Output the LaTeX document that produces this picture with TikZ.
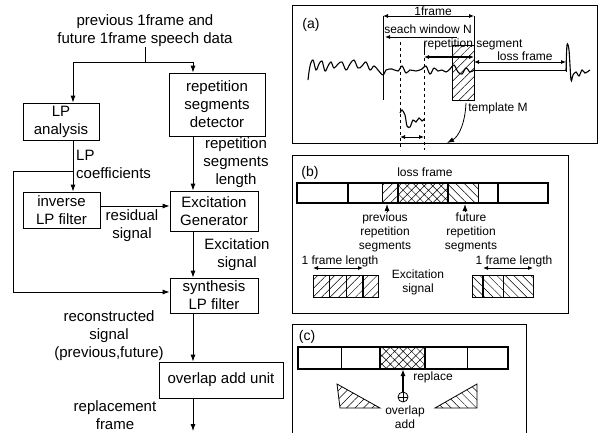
\documentclass[tikz,border=0pt]{standalone}
\usepackage{fontspec}
\setmainfont{Liberation Sans}
\usepackage{tikz}
\usetikzlibrary{arrows.meta,positioning,calc,patterns.meta}

\begin{document}
\begin{tikzpicture}[x=1pt,y=-1pt,
    blockbox/.style={draw, line width=0.8pt, align=center, inner sep=0pt, font=\fontsize{15}{18}\selectfont},
    lbl/.style={align=center, inner sep=0pt, font=\fontsize{15}{18}\selectfont},
    small/.style={align=center, inner sep=0pt, font=\fontsize{12}{14}\selectfont},
    big/.style={inner sep=0pt, font=\fontsize{14}{16}\selectfont},
    arr/.style={-{Latex[length=7pt,width=5pt]}, line width=0.8pt},
    dbl/.style={{Latex[length=5pt,width=4pt]}-{Latex[length=5pt,width=4pt]}, line width=0.8pt},
    panel/.style={line width=0.8pt},
    nehatch/.style={pattern={Lines[angle=45,distance=6pt,line width=0.5pt]}},
    nwhatch/.style={pattern={Lines[angle=-45,distance=6pt,line width=0.5pt]}},
    xhatch/.style={pattern={Hatch[angle=45,distance=6pt,line width=0.5pt]}}]
  \useasboundingbox (0,0) rectangle (602,432);

  % flow chart
  \node[lbl] (title) at (145,31) {previous 1frame and\\future 1frame speech data};
  \node[blockbox, minimum width=76, minimum height=37] (lpa) at (61,121.5) {LP\\analysis};
  \node[blockbox, minimum width=96, minimum height=63] (rsd) at (217,104.5) {repetition\\segments\\detector};
  \node[blockbox, minimum width=77, minimum height=36] (ilp) at (61.5,210) {inverse\\LP filter};
  \node[blockbox, minimum width=88, minimum height=40] (exg) at (214,211) {Excitation\\Generator};
  \node[blockbox, minimum width=88, minimum height=35] (slp) at (214,295.5) {synthesis\\LP filter};
  \node[blockbox, minimum width=124, minimum height=36] (ola) at (221,380) {overlap add unit};

  \node[lbl, align=left, anchor=west] (lpc) at (76,164) {LP\\coefficients};
  \node[lbl] (rsl) at (236,163) {repetition\\segments\\length};
  \node[lbl] (res) at (132,226) {residual\\signal};
  \node[lbl] (exs) at (237,255) {Excitation\\signal};
  \node[lbl] (rec) at (109,336) {reconstructed\\signal\\(previous,future)};
  \node[lbl] (rpf) at (115,415) {replacement\\frame};

  \coordinate (lpx) at (73,0);
  \coordinate (rpx) at (193,0);
  \coordinate (split) at (145,62);
  \coordinate (tap) at (73,171);
  \coordinate (loopl) at (13,171);
  \coordinate (resy) at (0,206);
  \coordinate (loopy) at (0,292);
  \coordinate (outp) at (193,431);

  \draw[line width=0.8pt] (title.south) -- (split);
  \draw[arr] (split) -| (lpa.north -| lpx);
  \draw[arr] (split) -| (rsd.north -| rpx);
  \draw[arr] (lpa.south -| lpx) -- (ilp.north -| lpx);
  \draw[arr] (tap) -- (loopl) |- (slp.west |- loopy);
  \draw[arr] (ilp.east |- resy) -- (exg.west |- resy);
  \draw[arr] (rsd.south -| rpx) -- (exg.north -| rpx);
  \draw[arr] (exg.south -| rpx) -- (slp.north -| rpx);
  \draw[arr] (slp.south -| rpx) -- (ola.north -| rpx);
  \draw[arr] (ola.south -| rpx) -- (outp);

  % panel (a)
  \draw[panel] (292,5) rectangle (597,143);
  \node[big] (pa) at (311,25) {(a)};
  \draw[nehatch] (452,45) rectangle (474,100);
  \draw[line width=1.1pt] plot[smooth, tension=0.6] coordinates {
    (308,80) (310,66) (313,60) (316,70) (319,64) (322,61) (325,71) (328,66)
    (331,62) (334,68) (338,64) (342,62) (346,70) (350,64) (354,60) (358,68)
    (362,66) (366,62) (370,70) (374,66) (378,70) (383,75) (386,70) (392,69)
    (398,71) (402,66) (406,73) (410,70) (416,71) (422,69) (426,66) (430,74)
    (434,68) (438,71) (442,70) (446,72) (450,69) (454,65) (458,72) (462,74)
    (466,68) (470,72) (474,70)};
  \draw[line width=0.8pt] (474,70) -- (566,70);
  \draw[line width=1.1pt] plot[smooth, tension=0.5] coordinates {
    (566,70) (567,45) (569,50) (571,80) (573,75) (576,72) (579,76) (582,70)
    (585,73) (590,70)};
  \draw[line width=0.6pt] (383,16) -- (383,100);
  \draw[line width=0.6pt] (474,16) -- (474,45);
  \node[small] (frm) at (433,11) {1frame};
  \draw[dbl] (383,16) -- (474,16);
  \node[small] (sw) at (428,29) {seach window N};
  \draw[-{Latex[length=5pt,width=4pt]}, line width=0.8pt] (457,37) -- (385,37);
  \draw[line width=0.6pt] (424,42) -- (424,52);
  \node[small] (rsg) at (473,44) {repetition segment};
  \draw[dbl, line width=1.4pt] (424,57) -- (474,57);
  \node[small] (lsf) at (525,56) {loss frame};
  \draw[dbl] (474,62) -- (566,62);
  \draw[line width=0.6pt] (566,50) -- (566,72);
  \draw[dashed, line width=0.6pt] (400,42) -- (400,150);
  \draw[dashed, line width=0.6pt] (424,52) -- (424,150);
  \draw[line width=1.1pt] plot[smooth, tension=0.5] coordinates {
    (400,113) (402,110) (405,115) (407,126) (410,127) (413,120) (416,122)
    (419,118) (422,121) (424,119)};
  \draw[dbl] (400,137) -- (424,137);
  \node[small] (tpm) at (498,108) {template M};
  \draw[arr] (466,103) .. controls (465,125) and (458,137) .. (447,143);

  % panel (b)
  \draw[panel] (292,155) rectangle (568,313);
  \node[big] (pb) at (310,173) {(b)};
  \node[small] (lfb) at (425,172) {loss frame};
  \fill[nehatch] (382,183) rectangle (398,203);
  \fill[xhatch] (398,183) rectangle (448,203);
  \fill[nwhatch] (448,183) rectangle (478,203);
  \foreach \x in {382,478} \draw[line width=0.8pt] (\x,183) -- (\x,203);
  \foreach \x in {348,398,448,498} \draw[line width=1.4pt] (\x,183) -- (\x,203);
  \draw[line width=1.6pt] (297,183) rectangle (548,203);
  \coordinate (bbar) at (0,204);
  \node[small] (prs) at (385,232) {previous\\repetition\\segments};
  \node[small] (fts) at (471,232) {future\\repetition\\segments};
  \draw[arr] ([xshift=2pt]prs.north) -- ([xshift=2pt]prs.north |- bbar);
  \draw[arr] ([xshift=-6pt]fts.north) -- ([xshift=-6pt]fts.north |- bbar);

  \fill[nehatch] (313,275) rectangle (378,297);
  \foreach \x in {329,346} \draw[line width=0.8pt] (\x,275) -- (\x,297);
  \draw[line width=1.4pt] (363,275) -- (363,297);
  \draw[line width=1pt] (313,275) rectangle (378,297);
  \node[small] (fl1) at (340,261) {1 frame length};
  \draw[dbl] (313,268) -- (363,268);

  \fill[nwhatch] (472,275) rectangle (533,297);
  \draw[line width=0.8pt] (503,275) -- (503,297);
  \draw[line width=1.4pt] (483,275) -- (483,297);
  \draw[line width=1pt] (472,275) rectangle (533,297);
  \node[small] (fl2) at (514,261) {1 frame length};
  \draw[dbl] (483,268) -- (533,268);
  \node[small] (exc) at (418,282) {Excitation\\signal};

  % panel (c)
  \draw[panel] (292,434) -- (292,324) -- (526,324) -- (526,434);
  \node[big] (pc) at (307,337) {(c)};
  \fill[xhatch] (380,347) rectangle (425,369);
  \foreach \x in {341,467} \draw[line width=0.8pt] (\x,347) -- (\x,369);
  \foreach \x in {380,425} \draw[line width=1.4pt] (\x,347) -- (\x,369);
  \draw[line width=1.6pt] (298,347) rectangle (508,369);
  \coordinate (cbar) at (0,369);
  \node[circle, draw, line width=0.8pt, inner sep=0pt, minimum size=10pt] (opl) at (403,397) {};
  \draw[line width=0.8pt] (opl.north) -- (opl.south) (opl.west) -- (opl.east);
  \draw[arr, line width=1.4pt] (opl.north) -- (opl.north |- cbar);
  \node[small] (rpl) at (433,377) {replace};
  \draw[nehatch, line width=0.8pt] (337,384) -- (340,408) -- (380,408) -- cycle;
  \draw[nwhatch, line width=0.8pt] (435,408) -- (477,384) -- (477,408) -- cycle;
  \node[small] (ova) at (405,417) {overlap\\add};
\end{tikzpicture}
\end{document}
